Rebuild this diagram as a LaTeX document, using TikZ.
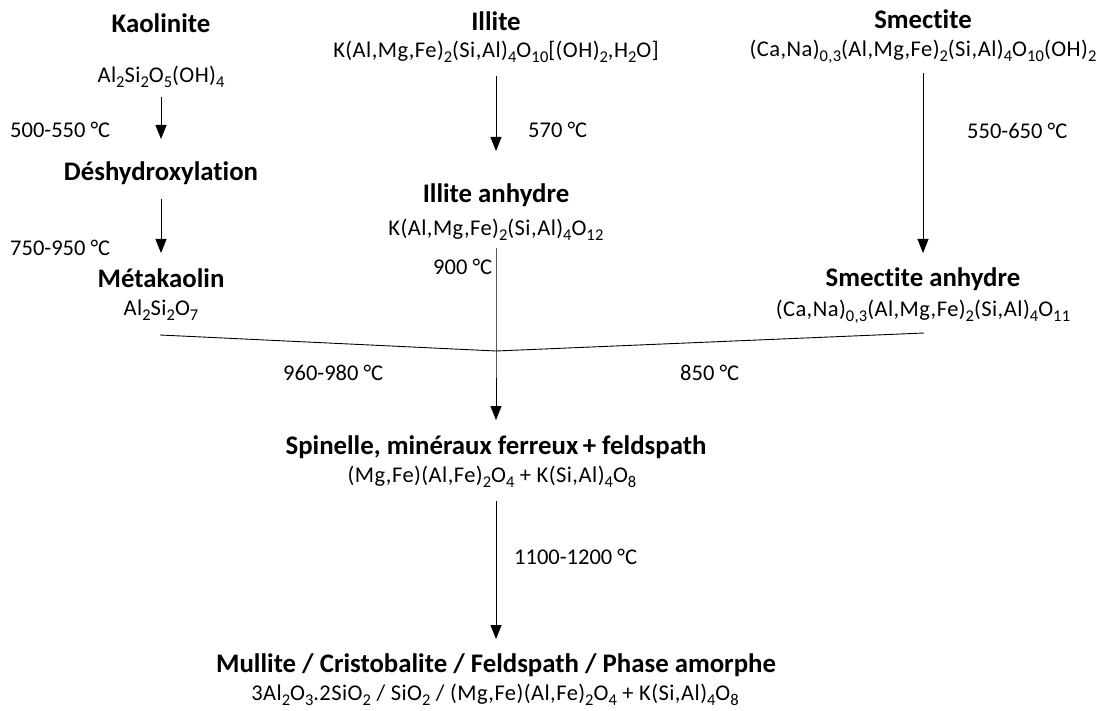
\documentclass[tikz,border=0pt]{standalone}
\usepackage{fontspec}
\setmainfont{Carlito}[Ligatures=CommonOff]
\newfontfamily\formfont{Carlito}[Ligatures=CommonOff,LetterSpace=2]
\usetikzlibrary{arrows.meta}
\newcommand{\ind}[1]{\raisebox{-0.2em}{\fontsize{16.5}{16.5}\selectfont #1}}
\begin{document}
\begin{tikzpicture}[x=1pt,y=-1pt,
  titre/.style={font=\bfseries\fontsize{26.8}{30}\selectfont, inner sep=0pt},
  formule/.style={font=\formfont\fontsize{22.5}{26}\selectfont, inner sep=0pt},
  temp/.style={font=\fontsize{22.5}{26}\selectfont, anchor=west, inner sep=0pt},
  fleche/.style={line width=0.9pt, -{Triangle[length=14pt,width=11pt]}}]
\useasboundingbox (0,0) rectangle (1107,711);
% Kaolinite
\node[titre] (kaol) at (161,23) {Kaolinite};
\node[formule] (kaolf) at (161,77) {Al\ind{2}Si\ind{2}O\ind{5}(OH)\ind{4}};
\node[titre] (deshy) at (161,173) {Déshydroxylation};
\node[titre] (meta) at (161,278) {Métakaolin};
\node[formule] (metaf) at (161,310) {Al\ind{2}Si\ind{2}O\ind{7}};
\node[temp] (t1) at (10,130) {500-550 °C};
\node[temp] (t2) at (10,248) {750-950 °C};
\draw[fleche, shorten <=20pt, shorten >=34pt] (kaolf.center) -- (deshy.center);
\draw[fleche, shorten <=26pt, shorten >=25pt] (deshy.center) -- (meta.center);
% Illite
\node[titre] (ill) at (496,21) {Illite};
\node[formule] (illf) at (496,52) {K(Al,Mg,Fe)\ind{2}(Si,Al)\ind{4}O\ind{10}[(OH)\ind{2},H\ind{2}O]};
\node[titre] (illa) at (496,195) {Illite anhydre};
\node[formule] (illaf) at (496,230) {K(Al,Mg,Fe)\ind{2}(Si,Al)\ind{4}O\ind{12}};
\node[temp] (t3) at (528,130) {570 °C};
\node[temp] (t4) at (433,267) {900 °C};
\draw[fleche, shorten <=24pt, shorten >=44pt] (illf.center) -- (illa.center);
% Smectite
\node[titre] (sme) at (923,19) {Smectite};
\node[formule] (smef) at (923,52) {(Ca,Na)\ind{0,3}(Al,Mg,Fe)\ind{2}(Si,Al)\ind{4}O\ind{10}(OH)\ind{2}};
\node[titre] (smea) at (923,279) {Smectite anhydre};
\node[formule] (smeaf) at (923,312) {(Ca,Na)\ind{0,3}(Al,Mg,Fe)\ind{2}(Si,Al)\ind{4}O\ind{11}};
\node[temp] (t5) at (967,131) {550-650 °C};
\draw[fleche, shorten <=21pt, shorten >=26pt] (smef.center) -- (smea.center);
% Jonction
\coordinate (j) at (496,351);
\coordinate (jg) at (160,335);
\coordinate (jd) at (924,333);
\draw[line width=0.9pt] (jg) -- (j) -- (jd);
\node[temp] (t6) at (283,373) {960-980 °C};
\node[temp] (t7) at (680,373) {850 °C};
% Spinelle
\node[titre] (spin) at (496,447) {Spinelle, minéraux ferreux\,+ feldspath};
\node[formule] (spinf) at (492,477) {(Mg,Fe)(Al,Fe)\ind{2}O\ind{4} + K(Si,Al)\ind{4}O\ind{8}};
\draw[fleche, shorten <=18pt, shorten >=27pt] (illaf.center) -- (j) -- (spin.center);
% Mullite
\node[titre] (mul) at (496,665) {Mullite / Cristobalite / Feldspath / Phase amorphe};
\node[formule] (mulf) at (495,695) {3Al\ind{2}O\ind{3}.2SiO\ind{2} / SiO\ind{2} / (Mg,Fe)(Al,Fe)\ind{2}O\ind{4} + K(Si,Al)\ind{4}O\ind{8}};
\node[temp] (t8) at (514,557) {1100-1200 °C};
\draw[fleche, shorten <=24pt, shorten >=26pt] (mul |- spinf.center) -- (mul.center);
\end{tikzpicture}
\end{document}
